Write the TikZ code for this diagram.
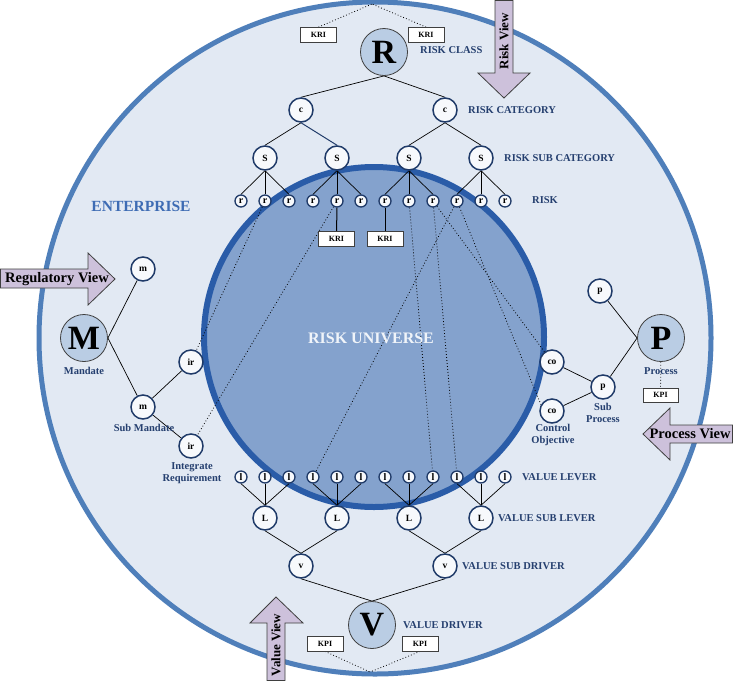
\documentclass[tikz,border=0pt]{standalone}
\usepackage{fontspec}
\setmainfont{Liberation Serif}
\pgfdeclarelayer{back}
\pgfdeclarelayer{edges}
\pgfsetlayers{back,edges,main}
\definecolor{entfill}{HTML}{E2E9F3}
\definecolor{entline}{HTML}{4F7FBA}
\definecolor{unifill}{HTML}{84A2CD}
\definecolor{uniline}{HTML}{2A5CA8}
\definecolor{bigfill}{HTML}{BACDE4}
\definecolor{navy}{HTML}{1F3A68}
\definecolor{lblcol}{HTML}{253F6F}
\definecolor{entcol}{HTML}{3E6CB4}
\definecolor{nodefill}{HTML}{F7F9FC}
\definecolor{arrfill}{HTML}{CDC1DB}
\definecolor{arrline}{HTML}{3F3F3F}
\begin{document}
\begin{tikzpicture}[x=1pt,y=-1pt,
  bignode/.style={circle,draw=arrline,line width=0.8pt,fill=bigfill,minimum size=47pt,inner sep=0pt,font=\fontsize{34}{34}\selectfont\bfseries},
  midnode/.style={circle,draw=navy,line width=1.5pt,fill=nodefill,minimum size=24pt,inner sep=0pt,font=\fontsize{9.5}{10}\selectfont\bfseries},
  tinynode/.style={circle,draw=navy,line width=1.3pt,fill=nodefill,minimum size=12pt,inner sep=0pt,font=\fontsize{10}{10}\selectfont\bfseries},
  kbox/.style={rectangle,draw=arrline,line width=0.8pt,fill=white,minimum width=36pt,minimum height=15pt,inner sep=0pt,font=\fontsize{8}{8}\selectfont\bfseries},
  lbl/.style={text=lblcol,font=\fontsize{10.5}{12.5}\selectfont\bfseries,anchor=west,inner sep=0pt},
  clbl/.style={text=lblcol,font=\fontsize{10.5}{12.5}\selectfont\bfseries,align=center,inner sep=0pt},
  edge/.style={line width=0.7pt},
  thickedge/.style={line width=1.0pt},
  dots/.style={line width=0.8pt,dash pattern=on 0.8pt off 2.2pt},
  arr/.style={fill=arrfill,draw=arrline,line width=0.8pt},
  arrtext/.style={font=\fontsize{14.5}{14.5}\selectfont\bfseries,inner sep=0pt},
  varrtext/.style={font=\fontsize{13}{13}\selectfont\bfseries,inner sep=0pt,rotate=90}]
\useasboundingbox (0,0) rectangle (733,681);
\begin{pgfonlayer}{back}
\fill[white] (0,0) rectangle (733,681);
\draw[entline,fill=entfill,line width=5pt] (375,338) circle (336);
\draw[uniline,fill=unifill,line width=6pt] (374,337) circle (170);
\end{pgfonlayer}

% text on circles
\node[text=entcol,font=\fontsize{15.5}{16}\selectfont\bfseries,inner sep=0pt] (ent) at (141,206) {ENTERPRISE};
\node[text=white!88!unifill,font=\fontsize{16}{16}\selectfont\bfseries,inner sep=0pt] (uni) at (371,338) {RISK UNIVERSE};

% big nodes
\node[bignode] (R) at (384,52) {R};
\node[bignode] (M) at (84,338) {M};
\node[bignode] (P) at (661,338) {P};
\node[bignode] (V) at (372,625) {V};

% risk tree
\node[midnode] (c1) at (301,110) {c};
\node[midnode] (c2) at (445,110) {c};
\node[midnode] (S1) at (265,158) {S};
\node[midnode] (S2) at (337,158) {S};
\node[midnode] (S3) at (409,158) {S};
\node[midnode] (S4) at (481,158) {S};
\foreach \i in {1,...,12} {
  \pgfmathsetmacro\xx{241+24*(\i-1)}
  \node[tinynode] (r\i) at (\xx,201) {r};
  \node[tinynode] (l\i) at (\xx,477) {l};
}
\node[midnode] (L1) at (265,518) {L};
\node[midnode] (L2) at (337,518) {L};
\node[midnode] (L3) at (409,518) {L};
\node[midnode] (L4) at (481,518) {L};
\node[midnode] (v1) at (301,566) {v};
\node[midnode] (v2) at (445,566) {v};

% left / right
\node[midnode] (m1) at (143,269) {m};
\node[midnode] (m2) at (143,407) {m};
\node[midnode] (ir1) at (191,362) {ir};
\node[midnode] (ir2) at (191,446) {ir};
\node[midnode] (p1) at (600,291) {p};
\node[midnode] (p2) at (603,387) {p};
\node[midnode] (co1) at (552,362) {co};
\node[midnode] (co2) at (552,411) {co};

% boxes
\node[kbox] (kriA) at (318.5,35) {KRI};
\node[kbox] (kriB) at (426,35) {KRI};
\node[kbox] (kriC) at (336.5,239) {KRI};
\node[kbox] (kriD) at (385,239) {KRI};
\node[kbox] (kpiA) at (325,643.5) {KPI};
\node[kbox] (kpiB) at (420,643.5) {KPI};
\node[kbox,minimum width=35pt,minimum height=14pt] (kpiP) at (660.5,395) {KPI};
\coordinate (topPt) at (372,4);
\coordinate (botPt) at (370,672);

% labels
\node[lbl] (lRC) at (420,50) {RISK CLASS};
\node[lbl] (lCat) at (468,110) {RISK CATEGORY};
\node[lbl] (lSub) at (504,158) {RISK SUB CATEGORY};
\node[lbl] (lRisk) at (532,200) {RISK};
\node[lbl] (lVL) at (522,477) {VALUE LEVER};
\node[lbl] (lVSL) at (498,518) {VALUE SUB LEVER};
\node[lbl] (lVSD) at (462,566) {VALUE SUB DRIVER};
\node[lbl] (lVD) at (403,625) {VALUE DRIVER};
\node[clbl] (lMan) at (84,371) {Mandate};
\node[clbl] (lSM) at (144,428) {Sub Mandate};
\node[clbl] (lIR) at (192,473) {Integrate\\Requirement};
\node[clbl] (lPro) at (661,371) {Process};
\node[clbl] (lSP) at (603,413) {Sub\\Process};
\node[clbl] (lCO) at (553,435) {Control\\Objective};

% edges
\begin{pgfonlayer}{edges}
\draw[edge] (R.south) -- (c1.north);
\draw[edge] (R.south) -- (c2.north);
\draw[edge] (c1.south) -- (S1.north);
\draw[thickedge,navy] (c1.south) -- (S2.north);
\draw[edge] (c2.south) -- (S3.north);
\draw[edge] (c2.south) -- (S4.north);
\foreach \s/\a/\b/\c in {S1/1/2/3,S2/4/5/6,S3/7/8/9,S4/10/11/12} {
  \draw[edge] (\s.south) -- (r\a.north);
  \draw[thickedge] (\s.south) -- (r\b.north);
  \draw[edge] (\s.south) -- (r\c.north);
}
\foreach \s/\a/\b/\c in {L1/1/2/3,L2/4/5/6,L3/7/8/9,L4/10/11/12} {
  \draw[edge] (\s.north) -- (l\a.south);
  \draw[thickedge] (\s.north) -- (l\b.south);
  \draw[edge] (\s.north) -- (l\c.south);
}
\draw[edge] (L1.south) -- (v1.north);
\draw[edge] (L2.south) -- (v1.north);
\draw[edge] (L3.south) -- (v2.north);
\draw[edge] (L4.south) -- (v2.north);
\draw[edge] (v1.south) -- (V.north);
\draw[edge] (v2.south) -- (V.north);
\draw[edge] (M.east) -- (m1);
\draw[edge] (M.east) -- (m2);
\draw[edge] (m2) -- (ir1);
\draw[edge] (m2) -- (ir2);
\draw[edge] (P.west) -- (p1);
\draw[edge] (P.west) -- (p2);
\draw[edge] (p2) -- (co1);
\draw[edge] (p2) -- (co2);
\draw[thickedge] (r5) -- (kriC);
\draw[thickedge] (r7) -- (kriD);
% dotted
\draw[dots] (kriA.north) -- (topPt);
\draw[dots] (kriB.north) -- (topPt);
\draw[dots] (kpiA.south) -- (botPt);
\draw[dots] (kpiB.south) -- (botPt);
\draw[dots] (P) -- (kpiP);
\draw[dots] (r2) -- (ir1);
\draw[dots] (r5) -- (ir2);
\draw[dots] (r8) -- (l9);
\draw[dots] (r9) -- (l10);
\draw[dots] (r9) -- (co1);
\draw[dots] (r10) -- (l4);
\draw[dots] (r10) -- (co2.150);
\end{pgfonlayer}

% view arrows
\draw[arr] (0.5,269) -- (88,269) -- (88,253) -- (115,279) -- (88,305) -- (88,288) -- (0.5,288) -- cycle;
\node[arrtext] (tReg) at (57,279) {Regulatory View};
\draw[arr] (732.5,425) -- (670,425) -- (670,408) -- (643,434) -- (670,460) -- (670,443) -- (732.5,443) -- cycle;
\node[arrtext] (tPro) at (690,434) {Process View};
\draw[arr] (495,0.5) -- (513,0.5) -- (513,73) -- (530,73) -- (504,98) -- (478,73) -- (495,73) -- cycle;
\node[varrtext] (tRisk) at (504,41) {Risk View};
\draw[arr] (267,680.5) -- (267,623) -- (250,623) -- (276,597) -- (303,623) -- (285,623) -- (285,680.5) -- cycle;
\node[varrtext] (tVal) at (276,645) {Value View};
\end{tikzpicture}
\end{document}
